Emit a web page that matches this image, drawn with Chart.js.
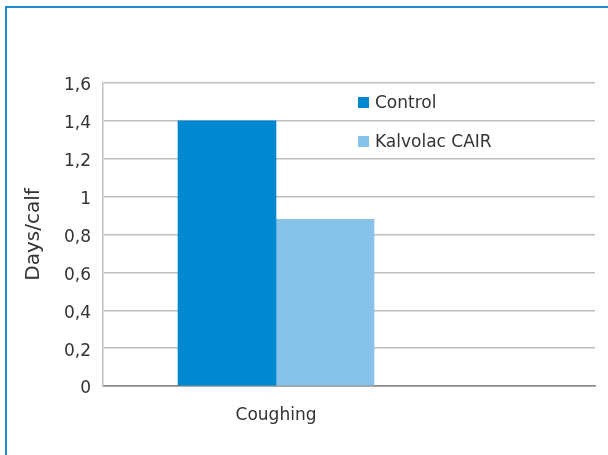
<!DOCTYPE html>
<html>
<head>
<meta charset="utf-8">
<script src="https://cdn.jsdelivr.net/npm/chart.js@4/dist/chart.umd.min.js"></script>
<style>
  body { margin: 0; background: #fff; }
  #frame {
    position: absolute; left: 5px; top: 6px; width: 603px; height: 449px;
    border-left: 2px solid #1a8ad4; border-top: 2px solid #1a8ad4;
    box-sizing: border-box;
  }
  #chart { position: absolute; left: 0; top: 0; }
</style>
</head>
<body>
<div id="frame"></div>
<canvas id="chart" width="608" height="455"></canvas>
<script>
let categories = ["Coughing"];
let seriesNames = ["Control", "Kalvolac CAIR"];
let controlValues = [1.4];
let kalvolacValues = [0.88];
let seriesColors = ["#0088d1", "#87c3e9"];
let yTicks = [0, 0.2, 0.4, 0.6, 0.8, 1, 1.2, 1.4, 1.6];

let fontFamily = '"DejaVu Sans", "Noto Sans", sans-serif';
let textColor = "#333333";

// legend sits inside the plot, like the original
let insideLegend = {
  id: "insideLegend",
  afterDraw(chart) {
    let ctx = chart.ctx;
    let area = chart.chartArea;
    ctx.save();
    ctx.font = "17px " + fontFamily;
    ctx.textBaseline = "middle";
    chart.data.datasets.forEach((ds, i) => {
      let y = area.top + 20 + i * 39;
      ctx.fillStyle = ds.backgroundColor;
      ctx.fillRect(area.left + 255, y - 6, 11, 11);
      ctx.fillStyle = textColor;
      ctx.fillText(ds.label, area.left + 272, y + 1);
    });
    ctx.restore();
  },
};

let ctx = document.getElementById("chart").getContext("2d");
let chart = new Chart(ctx, {
  type: "bar",
  data: {
    datasets: [
      {
        label: seriesNames[0],
        data: controlValues.map((v, i) => ({ x: i, y: v })),
        backgroundColor: seriesColors[0],
        barThickness: 98,
      },
      {
        label: seriesNames[1],
        data: kalvolacValues.map((v, i) => ({ x: i, y: v })),
        backgroundColor: seriesColors[1],
        barThickness: 98,
      },
    ],
  },
  options: {
    responsive: false,
    animation: false,
    layout: { padding: { top: 83, right: 13, left: 0, bottom: 0 } },
    plugins: {
      legend: { display: false },
      tooltip: { enabled: false },
    },
    scales: {
      x: {
        type: "linear",
        offset: false,
        min: -0.5,
        max: 0.922,
        grid: { display: false },
        border: { color: "#8c8c8c", width: 1.5 },
        afterBuildTicks: (scale) => {
          scale.ticks = categories.map((c, i) => ({ value: i }));
        },
        ticks: {
          callback: (v) => categories[v],
          padding: 11,
          color: textColor,
          font: { family: fontFamily, size: 17 },
          maxRotation: 0,
        },
        afterFit: (scale) => {
          scale.height = 69;
        },
      },
      y: {
        min: 0,
        max: 1.6,
        afterBuildTicks: (scale) => {
          scale.ticks = yTicks.map((v) => ({ value: v }));
        },
        ticks: {
          callback: (v) => String(v).replace(".", ","),
          padding: 12,
          labelOffset: 3,
          color: textColor,
          font: { family: fontFamily, size: 17 },
        },
        grid: {
          color: (c) => (c.tick && c.tick.value === 0 ? "#8c8c8c" : "#c0c0c0"),
          lineWidth: 1.5,
          drawTicks: false,
        },
        border: { color: "#c0c0c0", width: 1.5 },
        title: {
          display: true,
          text: "Days/calf",
          color: textColor,
          font: { family: fontFamily, size: 20 },
          padding: { top: 22, bottom: 0 },
        },
        afterFit: (scale) => {
          scale.width = 103;
        },
      },
    },
  },
  plugins: [insideLegend],
});
</script>
</body>
</html>
